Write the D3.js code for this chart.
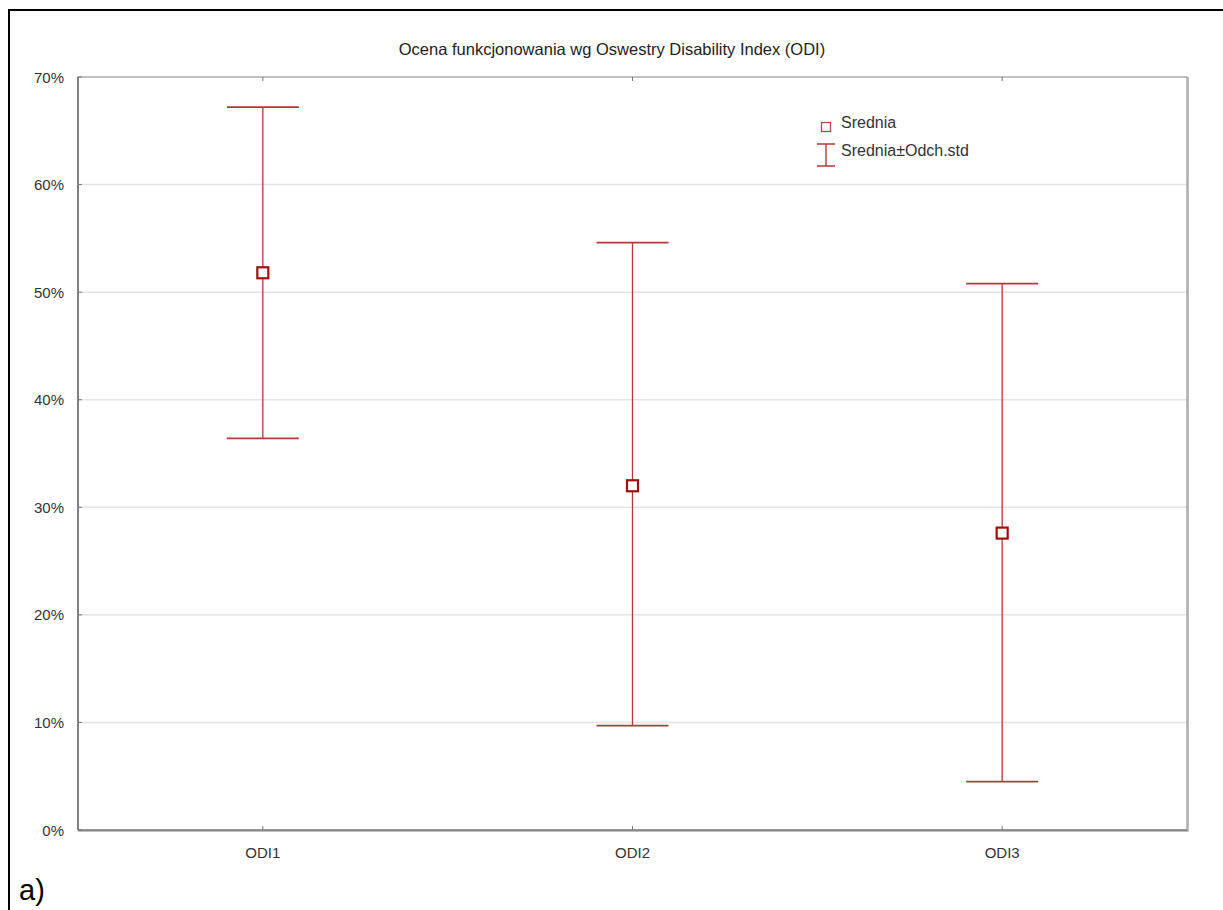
<!DOCTYPE html>
<html lang="pl">
<head>
<meta charset="UTF-8">
<title>Ocena funkcjonowania wg ODI</title>
<script src="https://d3js.org/d3.v7.min.js"></script>
<style>
    body { margin: 0; background: #fff; font-family: "Liberation Sans", Arial, sans-serif; }
    svg text { font-family: "Liberation Sans", Arial, sans-serif; }
</style>
</head>
<body>
<svg id="chart" width="1223" height="910"></svg>
<script>
// data (percent)
const categories = ["ODI1", "ODI2", "ODI3"];
const means = [51.8, 32.0, 27.6];
const upper = [67.2, 54.6, 50.8];
const lower = [36.4, 9.7, 4.5];
const yTicks = [0, 10, 20, 30, 40, 50, 60, 70];

const svg = d3.select("#chart");
const red = "#b03a3a";
const markRed = "#9e0e0e";

// outer cell border
svg.append("path")
    .attr("d", "M9,910 V10 H1223")
    .attr("fill", "none")
    .attr("stroke", "#000")
    .attr("stroke-width", 2);

const plotL = 78, plotR = 1187, plotT = 77, plotB = 830;

const x = d3.scalePoint().domain(categories).range([plotL, plotR]).padding(0.5);
const y = d3.scaleLinear().domain([0, 70]).range([plotB, plotT]);

// gridlines
svg.append("g").selectAll("line")
    .data(yTicks.filter(d => d > 0 && d < 70))
    .enter().append("line")
    .attr("x1", plotL).attr("x2", plotR)
    .attr("y1", d => y(d)).attr("y2", d => y(d))
    .attr("stroke", "#e4e4e4").attr("stroke-width", 1.5);

// frame
svg.append("rect")
    .attr("x", plotL).attr("y", plotT)
    .attr("width", plotR - plotL).attr("height", plotB - plotT)
    .attr("fill", "none").attr("stroke", "#9a9a9a").attr("stroke-width", 1.2);
svg.append("path")
    .attr("d", `M${plotR + 1},${plotT} V${plotB + 1} H${plotL}`)
    .attr("fill", "none").attr("stroke", "#a8a8a8").attr("stroke-width", 1.5);
svg.append("line")
    .attr("x1", plotL).attr("x2", plotL).attr("y1", plotT).attr("y2", plotB)
    .attr("stroke", "#555").attr("stroke-width", 1.2);
svg.append("line")
    .attr("x1", plotL).attr("x2", plotR).attr("y1", plotB).attr("y2", plotB)
    .attr("stroke", "#666").attr("stroke-width", 1.2);

// y axis labels and ticks
const yAxis = svg.append("g");
yTicks.forEach(t => {
    yAxis.append("line")
        .attr("x1", plotL).attr("x2", plotL + 4)
        .attr("y1", y(t)).attr("y2", y(t))
        .attr("stroke", "#777");
    yAxis.append("text")
        .attr("x", 64).attr("y", y(t) + 5.5)
        .attr("text-anchor", "end")
        .attr("font-size", 15).attr("fill", "#333")
        .text(t + "%");
});

// x axis labels and ticks
const xAxis = svg.append("g");
categories.forEach(c => {
    xAxis.append("line")
        .attr("x1", x(c)).attr("x2", x(c))
        .attr("y1", plotB).attr("y2", plotB - 4)
        .attr("stroke", "#777");
    xAxis.append("line")
        .attr("x1", x(c)).attr("x2", x(c))
        .attr("y1", plotT).attr("y2", plotT + 4)
        .attr("stroke", "#777");
    xAxis.append("text")
        .attr("x", x(c)).attr("y", 858)
        .attr("text-anchor", "middle")
        .attr("font-size", 15).attr("fill", "#333")
        .text(c);
});

// title
svg.append("text")
    .attr("x", 612).attr("y", 55)
    .attr("text-anchor", "middle")
    .attr("font-size", 16.5).attr("fill", "#222")
    .text("Ocena funkcjonowania wg Oswestry Disability Index (ODI)");

// error bars
const capW = 36;
const bars = svg.append("g").selectAll("g")
    .data(categories.map((c, i) => ({ c, m: means[i], hi: upper[i], lo: lower[i] })))
    .enter().append("g");

bars.append("line")
    .attr("x1", d => x(d.c)).attr("x2", d => x(d.c))
    .attr("y1", d => y(d.hi)).attr("y2", d => y(d.lo))
    .attr("stroke", red).attr("stroke-width", 1.3);
bars.append("line")
    .attr("x1", d => x(d.c) - capW).attr("x2", d => x(d.c) + capW)
    .attr("y1", d => y(d.hi)).attr("y2", d => y(d.hi))
    .attr("stroke", red).attr("stroke-width", 1.8);
bars.append("line")
    .attr("x1", d => x(d.c) - capW).attr("x2", d => x(d.c) + capW)
    .attr("y1", d => y(d.lo)).attr("y2", d => y(d.lo))
    .attr("stroke", red).attr("stroke-width", 1.8);
bars.append("rect")
    .attr("x", d => x(d.c) - 5.5).attr("y", d => y(d.m) - 5.5)
    .attr("width", 11).attr("height", 11)
    .attr("fill", "#fff").attr("stroke", markRed).attr("stroke-width", 2.2);

// legend
const lg = svg.append("g");
lg.append("rect")
    .attr("x", 821.5).attr("y", 122.5).attr("width", 9).attr("height", 9)
    .attr("fill", "#fff").attr("stroke", "#b04a4a").attr("stroke-width", 1.3);
lg.append("text")
    .attr("x", 841).attr("y", 128)
    .attr("font-size", 16).attr("fill", "#333")
    .text("Srednia");
lg.append("path")
    .attr("d", "M817,144 H835 M826,144 V166 M817,166 H835")
    .attr("fill", "none").attr("stroke", red).attr("stroke-width", 1.4);
lg.append("text")
    .attr("x", 841).attr("y", 156)
    .attr("font-size", 16).attr("fill", "#333")
    .text("Srednia±Odch.std");

// panel label
svg.append("text")
    .attr("x", 19).attr("y", 900)
    .attr("font-size", 29).attr("fill", "#000")
    .text("a)");
</script>
</body>
</html>
